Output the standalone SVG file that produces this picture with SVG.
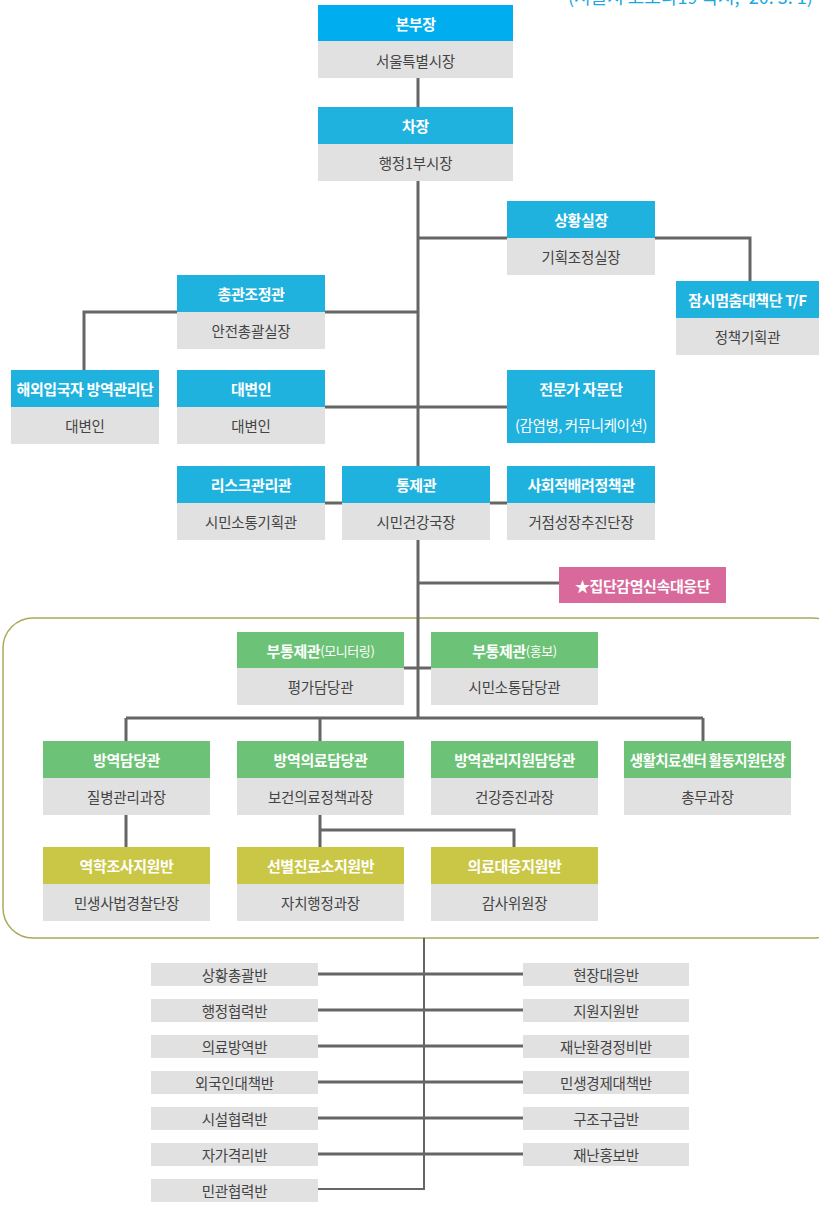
<svg xmlns="http://www.w3.org/2000/svg" width="819" height="1213" viewBox="0 0 819 1213">
<style>
text{font-family:"Noto Sans CJK KR","Noto Sans",sans-serif;text-anchor:middle;dominant-baseline:central}
.h{fill:#fff;font-size:15px;font-weight:bold;letter-spacing:-0.4px}
.b{fill:#444;font-size:14.5px;letter-spacing:-0.2px}
.s{font-weight:normal;font-size:13px}
.blue{fill:#1fb2de}
.green{fill:#6cc276}
.olive{fill:#cbc746}
.gray{fill:#e1e1e1}
.ln{stroke:#666;stroke-width:3;fill:none}
.lt{stroke:#666;stroke-width:2;fill:none}
</style>
<rect width="819" height="1213" fill="#fff"/>
<text x="568" y="-4" style="text-anchor:start;fill:#1aa8e2;font-size:18px">(서울시 코로나19 국시, '20. 3. 1)</text>

<rect x="3" y="618" width="840" height="320" rx="30" fill="none" stroke="#aaaa5c" stroke-width="1.5"/>

<g id="connectors">
<path class="ln" d="M418 78V107M418 181V540M418 238H507M655 238H750V291M325 312H418M177 312H84V371M325 407H507M325 503H342M490 503H507M418 540V718M418 583H559M404 668H431M126 718H703M126 718V741M320 718V741M703 718V741M126 815V847M320 815V847M320 830H514V847"/>
<path class="ln" d="M318 974H523M318 1010H523M318 1046H523M318 1082H523M318 1118H523M318 1154H523"/>
<path class="lt" d="M424 938V1189H318"/>
</g>

<g id="n1"><rect x="318" y="5" width="195" height="36" fill="#00aeef"/><rect class="gray" x="318" y="41" width="195" height="37"/><text class="h" x="415.5" y="23">본부장</text><text class="b" x="415.5" y="60">서울특별시장</text></g>
<g id="n2"><rect class="blue" x="318" y="107" width="195" height="37"/><rect class="gray" x="318" y="144" width="195" height="37"/><text class="h" x="415.5" y="125.5">차장</text><text class="b" x="415.5" y="162.5">행정1부시장</text></g>
<g id="n3"><rect class="blue" x="507" y="201" width="148" height="37"/><rect class="gray" x="507" y="238" width="148" height="37"/><text class="h" x="581" y="219.5">상황실장</text><text class="b" x="581" y="256.5">기획조정실장</text></g>
<g id="n4"><rect class="blue" x="676" y="281" width="143" height="37"/><rect class="gray" x="676" y="318" width="143" height="37"/><text class="h" x="747.5" y="299.5">잠시멈춤대책단 T/F</text><text class="b" x="747.5" y="336.5">정책기획관</text></g>
<g id="n5"><rect class="blue" x="177" y="275" width="148" height="37"/><rect class="gray" x="177" y="312" width="148" height="37"/><text class="h" x="251" y="293.5">총관조정관</text><text class="b" x="251" y="330.5">안전총괄실장</text></g>
<g id="n6"><rect class="blue" x="11" y="370" width="148" height="37"/><rect class="gray" x="11" y="407" width="148" height="37"/><text class="h" x="85" y="388.5">해외입국자 방역관리단</text><text class="b" x="85" y="425.5">대변인</text></g>
<g id="n7"><rect class="blue" x="177" y="370" width="148" height="37"/><rect class="gray" x="177" y="407" width="148" height="37"/><text class="h" x="251" y="388.5">대변인</text><text class="b" x="251" y="425.5">대변인</text></g>
<g id="n8"><rect class="blue" x="507" y="370" width="148" height="73"/><text class="h" x="581" y="388.5">전문가 자문단</text><text class="h" x="581" y="424.5" style="font-weight:normal;font-size:14.5px">(감염병, 커뮤니케이션)</text></g>
<g id="n9"><rect class="blue" x="177" y="466" width="148" height="37"/><rect class="gray" x="177" y="503" width="148" height="37"/><text class="h" x="251" y="484.5">리스크관리관</text><text class="b" x="251" y="521.5">시민소통기획관</text></g>
<g id="n10"><rect class="blue" x="342" y="466" width="148" height="37"/><rect class="gray" x="342" y="503" width="148" height="37"/><text class="h" x="416" y="484.5">통제관</text><text class="b" x="416" y="521.5">시민건강국장</text></g>
<g id="n11"><rect class="blue" x="507" y="466" width="148" height="37"/><rect class="gray" x="507" y="503" width="148" height="37"/><text class="h" x="581" y="484.5">사회적배려정책관</text><text class="b" x="581" y="521.5">거점성장추진단장</text></g>
<g id="n12"><rect x="559" y="567" width="167" height="36" fill="#d9689b"/><text class="h" x="642.5" y="585">★집단감염신속대응단</text></g>

<g id="n13"><rect class="green" x="237" y="632" width="167" height="36"/><rect class="gray" x="237" y="668" width="167" height="37"/><text class="h" x="320.5" y="650">부통제관<tspan class="s">(모니터링)</tspan></text><text class="b" x="320.5" y="686.5">평가담당관</text></g>
<g id="n14"><rect class="green" x="431" y="632" width="167" height="36"/><rect class="gray" x="431" y="668" width="167" height="37"/><text class="h" x="514.5" y="650">부통제관<tspan class="s">(홍보)</tspan></text><text class="b" x="514.5" y="686.5">시민소통담당관</text></g>

<g id="n15"><rect class="green" x="43" y="741" width="167" height="37"/><rect class="gray" x="43" y="778" width="167" height="37"/><text class="h" x="126.5" y="759.5">방역담당관</text><text class="b" x="126.5" y="796.5">질병관리과장</text></g>
<g id="n16"><rect class="green" x="237" y="741" width="167" height="37"/><rect class="gray" x="237" y="778" width="167" height="37"/><text class="h" x="320.5" y="759.5">방역의료담당관</text><text class="b" x="320.5" y="796.5">보건의료정책과장</text></g>
<g id="n17"><rect class="green" x="431" y="741" width="167" height="37"/><rect class="gray" x="431" y="778" width="167" height="37"/><text class="h" x="514.5" y="759.5">방역관리지원담당관</text><text class="b" x="514.5" y="796.5">건강증진과장</text></g>
<g id="n18"><rect class="green" x="624" y="741" width="167" height="37"/><rect class="gray" x="624" y="778" width="167" height="37"/><text class="h" x="707.5" y="759.5" style="font-size:14.5px;letter-spacing:-0.6px">생활치료센터 활동지원단장</text><text class="b" x="707.5" y="796.5">총무과장</text></g>

<g id="n19"><rect class="olive" x="43" y="847" width="167" height="37"/><rect class="gray" x="43" y="884" width="167" height="37"/><text class="h" x="126.5" y="865.5">역학조사지원반</text><text class="b" x="126.5" y="902.5">민생사법경찰단장</text></g>
<g id="n20"><rect class="olive" x="237" y="847" width="167" height="37"/><rect class="gray" x="237" y="884" width="167" height="37"/><text class="h" x="320.5" y="865.5">선별진료소지원반</text><text class="b" x="320.5" y="902.5">자치행정과장</text></g>
<g id="n21"><rect class="olive" x="431" y="847" width="167" height="37"/><rect class="gray" x="431" y="884" width="167" height="37"/><text class="h" x="514.5" y="865.5">의료대응지원반</text><text class="b" x="514.5" y="902.5">감사위원장</text></g>

<g id="L1"><rect class="gray" x="151" y="963" width="167" height="23"/><text class="b" x="234.5" y="974.5">상황총괄반</text></g>
<g id="L2"><rect class="gray" x="151" y="999" width="167" height="23"/><text class="b" x="234.5" y="1010.5">행정협력반</text></g>
<g id="L3"><rect class="gray" x="151" y="1035" width="167" height="23"/><text class="b" x="234.5" y="1046.5">의료방역반</text></g>
<g id="L4"><rect class="gray" x="151" y="1071" width="167" height="23"/><text class="b" x="234.5" y="1082.5">외국인대책반</text></g>
<g id="L5"><rect class="gray" x="151" y="1107" width="167" height="23"/><text class="b" x="234.5" y="1118.5">시설협력반</text></g>
<g id="L6"><rect class="gray" x="151" y="1143" width="167" height="23"/><text class="b" x="234.5" y="1154.5">자가격리반</text></g>
<g id="L7"><rect class="gray" x="151" y="1179" width="167" height="23"/><text class="b" x="234.5" y="1190.5">민관협력반</text></g>
<g id="R1"><rect class="gray" x="523" y="963" width="166" height="23"/><text class="b" x="606" y="974.5">현장대응반</text></g>
<g id="R2"><rect class="gray" x="523" y="999" width="166" height="23"/><text class="b" x="606" y="1010.5">지원지원반</text></g>
<g id="R3"><rect class="gray" x="523" y="1035" width="166" height="23"/><text class="b" x="606" y="1046.5">재난환경정비반</text></g>
<g id="R4"><rect class="gray" x="523" y="1071" width="166" height="23"/><text class="b" x="606" y="1082.5">민생경제대책반</text></g>
<g id="R5"><rect class="gray" x="523" y="1107" width="166" height="23"/><text class="b" x="606" y="1118.5">구조구급반</text></g>
<g id="R6"><rect class="gray" x="523" y="1143" width="166" height="23"/><text class="b" x="606" y="1154.5">재난홍보반</text></g>
</svg>
